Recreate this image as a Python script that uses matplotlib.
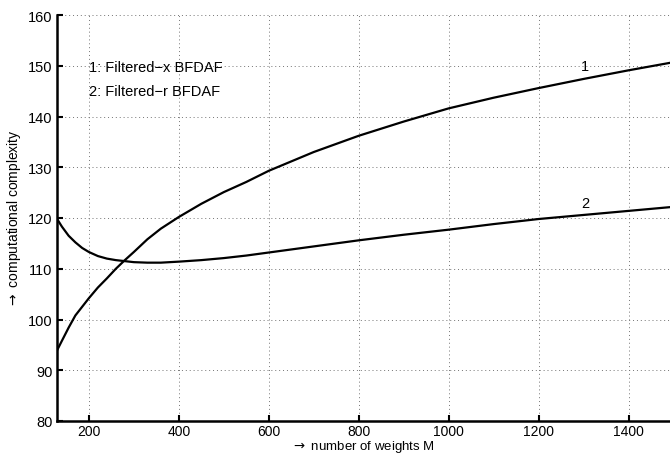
import matplotlib
matplotlib.use("Agg")
import matplotlib.pyplot as plt

plt.rcParams["font.family"] = ["Liberation Sans", "DejaVu Sans"]

# values
M = [128, 140, 155, 170, 185, 200, 220, 240, 260, 280, 300, 330, 360, 400,
     450, 500, 550, 600, 700, 800, 900, 1000, 1100, 1200, 1300, 1400, 1500]
cx = [93.7, 95.8, 98.4, 100.8, 102.5, 104.2, 106.3, 108.1, 110.0, 111.7,
      113.3, 115.8, 117.9, 120.2, 122.8, 125.1, 127.1, 129.3, 133.0, 136.2,
      139.0, 141.6, 143.7, 145.6, 147.4, 149.1, 150.7]
cr = [120.0, 118.3, 116.5, 115.2, 114.1, 113.3, 112.5, 112.0, 111.7, 111.5,
      111.3, 111.2, 111.2, 111.4, 111.7, 112.1, 112.6, 113.2, 114.4, 115.6,
      116.7, 117.7, 118.8, 119.8, 120.6, 121.4, 122.2]
xticks = [200, 400, 600, 800, 1000, 1200, 1400]
yticks = [80, 90, 100, 110, 120, 130, 140, 150, 160]

fs = 10.5
fig = plt.figure(figsize=(6.7, 4.56), dpi=100)
ax = fig.add_axes([56.5 / 670, 1 - 422 / 456, 617 / 670, 406 / 456])

ax.plot(M, cx, color="black", lw=1.6)
ax.plot(M, cr, color="black", lw=1.6)

ax.set_xlim(128, 1500)
ax.set_ylim(80, 160)
ax.set_xticks(xticks)
ax.set_yticks(yticks)
ax.grid(True, linestyle=(0, (1, 3)), color="0.45", lw=0.7)
for s in ["top", "right"]:
    ax.spines[s].set_visible(False)
for s in ["left", "bottom"]:
    ax.spines[s].set_linewidth(1.8)
ax.tick_params(direction="in", length=4, width=1.5, labelsize=fs)
ax.tick_params(axis="x", labelsize=10, pad=2.5)
ax.tick_params(axis="y", pad=3)

ax.text(1303, 149.9, "1", fontsize=fs, ha="center", va="center")
ax.text(1303, 122.9, "2", fontsize=fs, ha="center", va="center")
ax.text(200, 149.7, "1: Filtered\u2212x BFDAF", fontsize=fs, va="center")
ax.text(200, 145.0, "2: Filtered\u2212r BFDAF", fontsize=fs, va="center")

fig.text(363 / 670, 1 / 456, r"$\rightarrow$ number of weights M", fontsize=9.5,
         ha="center", va="bottom")
fig.text(14 / 670, 1 - 219 / 456, r"$\rightarrow$ computational complexity",
         fontsize=10, ha="center", va="center", rotation=90)

fig.savefig("out.png", dpi=100)
